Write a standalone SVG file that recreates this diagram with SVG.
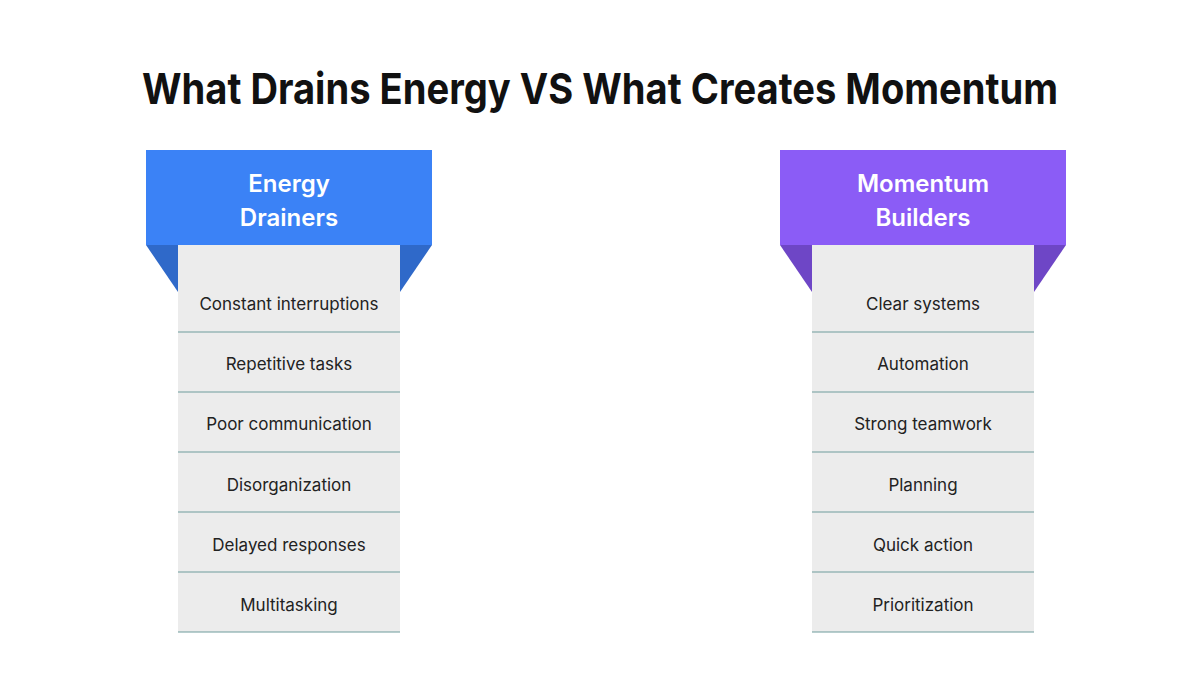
<svg xmlns="http://www.w3.org/2000/svg" width="1200" height="675" viewBox="0 0 1200 675">
<style>
.title{font-family:Inter,"Liberation Sans",sans-serif;font-weight:700;font-size:43px;fill:#111;text-anchor:middle}
.head{font-family:Inter,"Liberation Sans",sans-serif;font-weight:600;font-size:24px;fill:#fff;text-anchor:middle}
.item{font-family:Inter,"Liberation Sans",sans-serif;font-size:17px;fill:#222;text-anchor:middle;dominant-baseline:central}
.col{fill:#ececec}
.div{stroke:#6f9b9b;stroke-width:1.2}
</style>
<rect width="1200" height="675" fill="#fff"/>
<text class="title" x="600" y="104" textLength="916" lengthAdjust="spacingAndGlyphs">What Drains Energy VS What Creates Momentum</text>

<g id="energy-drainers">
<polygon points="146,245 178,245 178,292" fill="#2f69c9"/>
<polygon points="400,245 432,245 400,292" fill="#2f69c9"/>
<rect class="col" x="178" y="245" width="222" height="387"/>
<rect x="146" y="150" width="286" height="95" fill="#3b82f6"/>
<text class="head" x="289" y="192">Energy</text>
<text class="head" x="289" y="226">Drainers</text>
<g class="rows">
<line class="div" x1="178" y1="332" x2="400" y2="332"/>
<line class="div" x1="178" y1="392" x2="400" y2="392"/>
<line class="div" x1="178" y1="452" x2="400" y2="452"/>
<line class="div" x1="178" y1="512" x2="400" y2="512"/>
<line class="div" x1="178" y1="572" x2="400" y2="572"/>
<line class="div" x1="178" y1="632" x2="400" y2="632"/>
<text class="item" x="289" y="304">Constant interruptions</text>
<text class="item" x="289" y="364">Repetitive tasks</text>
<text class="item" x="289" y="424">Poor communication</text>
<text class="item" x="289" y="485">Disorganization</text>
<text class="item" x="289" y="545">Delayed responses</text>
<text class="item" x="289" y="605">Multitasking</text>
</g>
</g>

<g id="momentum-builders">
<polygon points="780,245 812,245 812,292" fill="#6e46c6"/>
<polygon points="1034,245 1066,245 1034,292" fill="#6e46c6"/>
<rect class="col" x="812" y="245" width="222" height="387"/>
<rect x="780" y="150" width="286" height="95" fill="#8b5cf6"/>
<text class="head" x="923" y="192">Momentum</text>
<text class="head" x="923" y="226">Builders</text>
<g class="rows">
<line class="div" x1="812" y1="332" x2="1034" y2="332"/>
<line class="div" x1="812" y1="392" x2="1034" y2="392"/>
<line class="div" x1="812" y1="452" x2="1034" y2="452"/>
<line class="div" x1="812" y1="512" x2="1034" y2="512"/>
<line class="div" x1="812" y1="572" x2="1034" y2="572"/>
<line class="div" x1="812" y1="632" x2="1034" y2="632"/>
<text class="item" x="923" y="304">Clear systems</text>
<text class="item" x="923" y="364">Automation</text>
<text class="item" x="923" y="424">Strong teamwork</text>
<text class="item" x="923" y="485">Planning</text>
<text class="item" x="923" y="545">Quick action</text>
<text class="item" x="923" y="605">Prioritization</text>
</g>
</g>
</svg>
